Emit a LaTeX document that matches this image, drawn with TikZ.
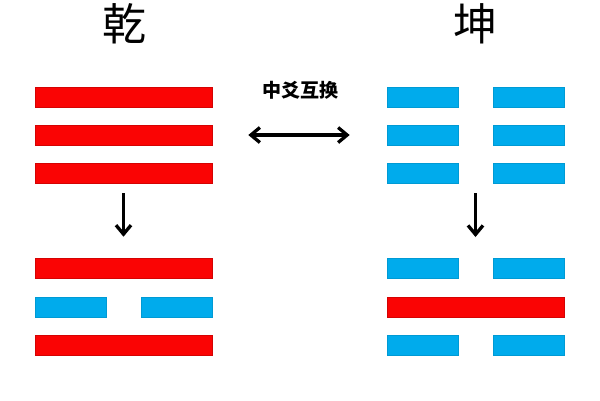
\documentclass[tikz,border=0pt]{standalone}
\usepackage{fontspec}
\newfontfamily\cjk{Noto Sans CJK SC}
\usetikzlibrary{arrows.meta, positioning}
\definecolor{yangred}{RGB}{250,4,4}
\definecolor{yinblue}{RGB}{0,171,236}

\begin{document}
\begin{tikzpicture}[x=1pt, y=-1pt, >={Straight Barb[length=9pt, width=15pt]},
  yang/.style={draw=yangred!85!black, line width=0.6pt, fill=yangred,
               minimum width=177pt, minimum height=20pt, inner sep=0pt},
  yin/.style={draw=yinblue!90!black, line width=0.6pt, fill=yinblue,
              minimum width=71pt, minimum height=20pt, inner sep=0pt},
  turn/.style={line width=3.3pt, black}]
  \useasboundingbox (0,0) rectangle (600,400);

  % Titles
  \node[font=\cjk\fontsize{44}{44}\selectfont] (qian) at (124,24) {乾};
  \node[font=\cjk\fontsize{44}{44}\selectfont] (kun) at (475,24) {坤};

  % Upper trigrams
  \foreach \i/\y in {1/97,2/135,3/173} {
    \node[yang] (q\i) at (123.5,\y) {};
    \node[yin] (k\i-l) at (422.5,\y) {};
    \node[yin] (k\i-r) at (528.5,\y) {};
  }

  % Lower trigrams
  \node[yang] (q4) at (123.5,268) {};
  \node[yin] (q5-l) at (70.5,307) {};
  \node[yin] (q5-r) at (176.5,307) {};
  \node[yang] (q6) at (123.5,345) {};
  \node[yin] (k4-l) at (422.5,268) {};
  \node[yin] (k4-r) at (528.5,268) {};
  \node[yang] (k5) at (475.5,307) {};
  \node[yin] (k6-l) at (422.5,345) {};
  \node[yin] (k6-r) at (528.5,345) {};

  % Swap label and arrow
  \node[font=\cjk\bfseries\fontsize{19}{19}\selectfont] (swap) at (300,90) {中爻互换};
  \draw[<->, turn, shorten <=36pt, shorten >=37pt] (q2.east) -- (k2-l.west);

  % Down arrows
  \coordinate (k3) at (475.5,183);
  \coordinate (k4) at (475.5,258);
  \draw[->, turn, shorten <=10pt, shorten >=21pt] (q3.south) -- (q4.north);
  \draw[->, turn, shorten <=10pt, shorten >=21pt] (k3) -- (k4);
\end{tikzpicture}
\end{document}
